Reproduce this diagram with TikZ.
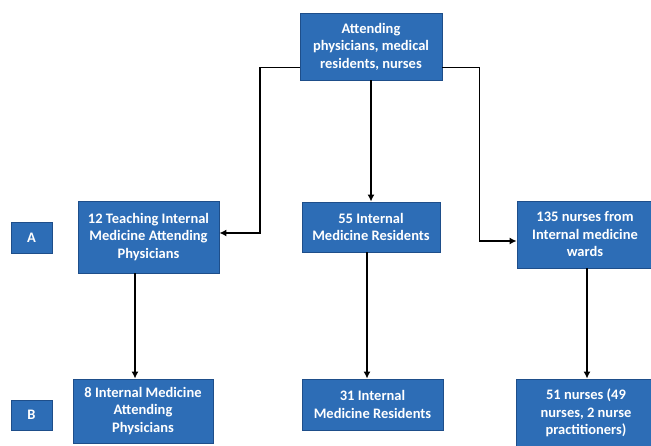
\documentclass[tikz,border=0pt]{standalone}
\usepackage{fontspec}
\setmainfont{Carlito}
\usetikzlibrary{arrows.meta}

\definecolor{boxblue}{HTML}{2D6DB6}
\definecolor{boxline}{HTML}{1E4E8A}

\begin{document}
\begin{tikzpicture}[x=1pt, y=-1pt,
    box/.style={draw=boxline, line width=0.8pt, fill=boxblue, text=white,
      font=\fontsize{14.5}{17.5}\selectfont\bfseries, align=center, inner sep=0pt},
    arr/.style={draw=black, line width=1.8pt, -{Latex[length=7pt,width=7pt]}}]
  \useasboundingbox (0,0) rectangle (651,446);

  % top of the tree
  \node[box, minimum width=142pt, minimum height=67pt] (top) at (371,46.5)
    {Attending\\physicians, medical\\residents, nurses};

  % row A
  \node[box, minimum width=41pt, minimum height=31pt] (rowA) at (31.5,237.5) {A};
  \node[box, minimum width=141pt, minimum height=72pt] (atdA) at (148.5,237)
    {12 Teaching Internal\\Medicine Attending\\Physicians};
  \node[box, minimum width=138pt, minimum height=50pt] (resA) at (371,227)
    {55 Internal\\Medicine Residents};
  \node[box, minimum width=136pt, minimum height=67pt] (nurA) at (585,234.5)
    {135 nurses from\\Internal medicine\\wards};

  % row B
  \node[box, minimum width=41pt, minimum height=30pt] (rowB) at (31.5,415) {B};
  \node[box, minimum width=140pt, minimum height=64pt] (atdB) at (143,411)
    {8 Internal Medicine\\Attending\\Physicians};
  \node[box, minimum width=141pt, minimum height=51pt] (resB) at (372.5,404.5)
    {31 Internal\\Medicine Residents};
  \node[box, minimum width=140pt, minimum height=68pt] (nurB) at (586,413)
    {51 nurses (49\\nurses, 2 nurse\\practitioners)};

  % connectors
  \draw[arr] ([yshift=-21pt]top.west) -- ++(-40,0) |- ([yshift=4pt]atdA.east);
  \draw[arr] (top.south) -- (resA.north);
  \draw[arr] ([yshift=-21pt]top.east) -- ++(37,0) |- ([yshift=-6.5pt]nurA.west);

  \draw[arr] ([xshift=-13.5pt]atdA.south) -- ([xshift=-13.5pt]atdA.south |- atdB.north);
  \draw[arr] ([xshift=-4pt]resA.south) -- ([xshift=-4pt]resA.south |- resB.north);
  \draw[arr] ([xshift=2pt]nurA.south) -- ([xshift=2pt]nurA.south |- nurB.north);
\end{tikzpicture}
\end{document}
